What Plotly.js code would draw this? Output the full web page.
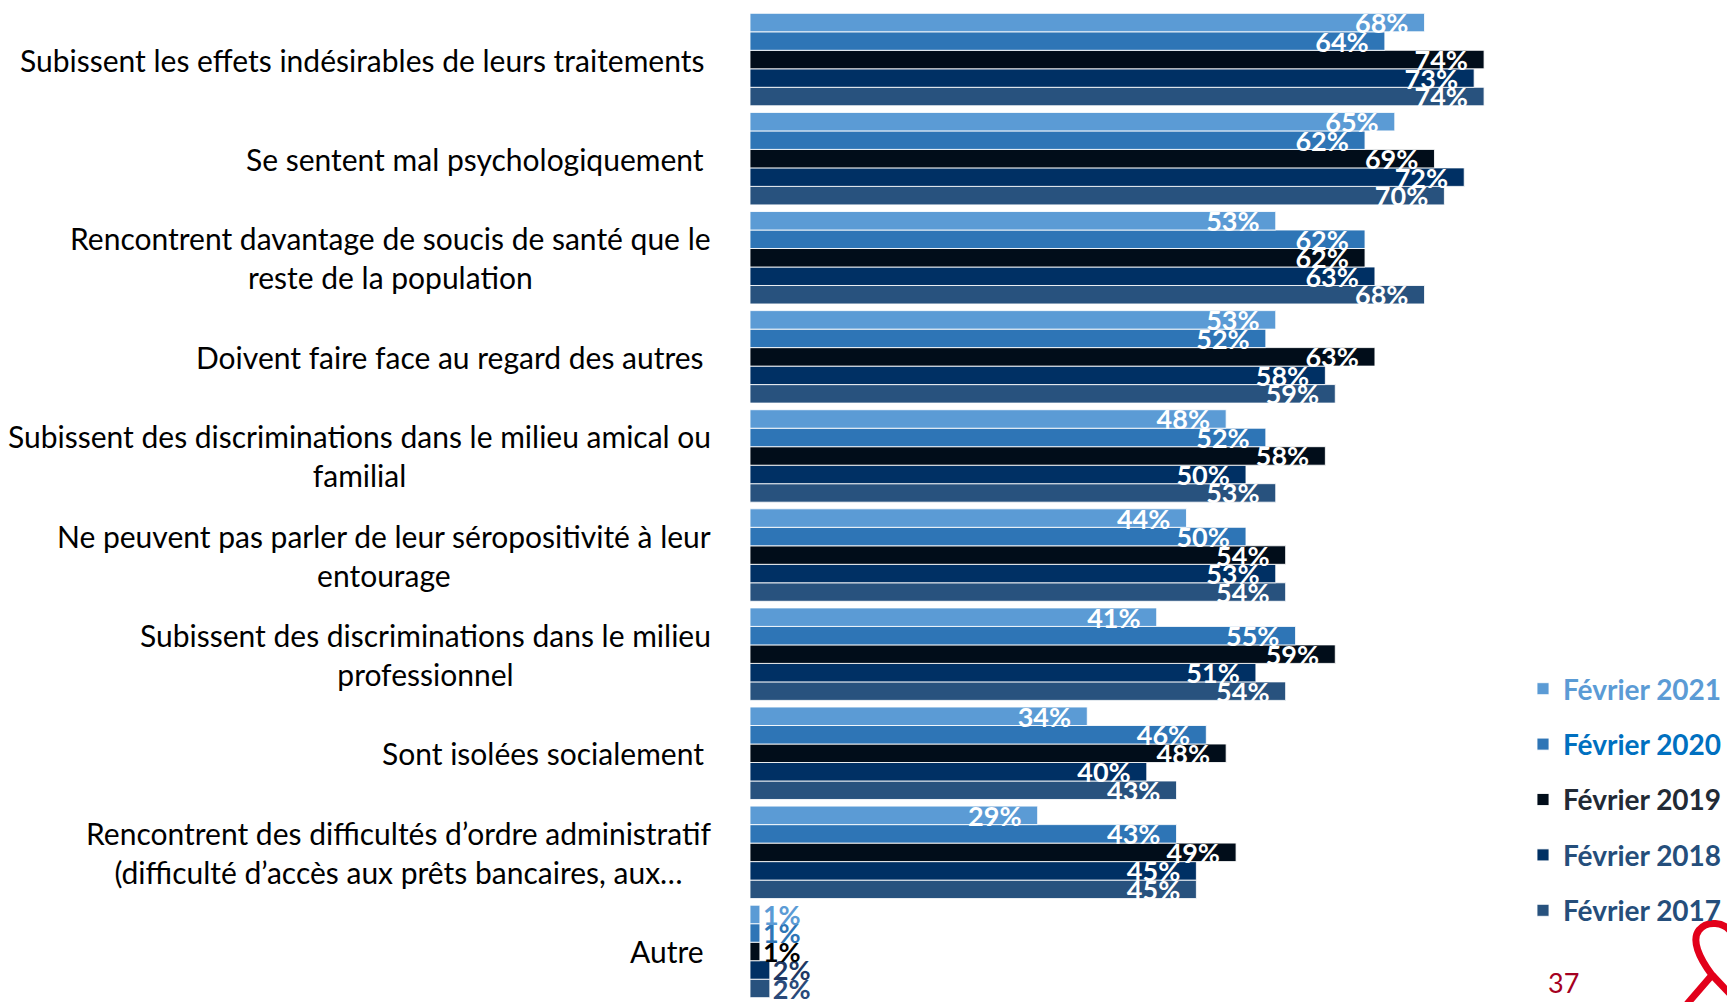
<!DOCTYPE html>
<html>
<head>
<meta charset="utf-8">
<script src="https://cdn.plot.ly/plotly-3.0.1.min.js"></script>
<style>
  html, body { margin: 0; padding: 0; background: #ffffff; }
  #chart { width: 1727px; height: 1002px; }
</style>
</head>
<body>
<div id="chart"></div>
<script>
// ---- Data ----
const categories = [
  "Subissent les effets indésirables de leurs traitements",
  "Se sentent mal psychologiquement",
  "Rencontrent davantage de soucis de santé que le<br>reste de la population",
  "Doivent faire face au regard des autres",
  "Subissent des discriminations dans le milieu amical ou<br>familial",
  "Ne peuvent pas parler de leur séropositivité à leur<br>entourage",
  "Subissent des discriminations dans le milieu<br>professionnel",
  "Sont isolées socialement",
  "Rencontrent des difficultés d’ordre administratif<br>(difficulté d’accès aux prêts bancaires, aux…",
  "Autre"
];
const seriesNames = ["Février 2021", "Février 2020", "Février 2019", "Février 2018", "Février 2017"];
const fev2021 = [68, 65, 53, 53, 48, 44, 41, 34, 29, 1];
const fev2020 = [64, 62, 62, 52, 52, 50, 55, 46, 43, 1];
const fev2019 = [74, 69, 62, 63, 58, 54, 59, 48, 49, 1];
const fev2018 = [73, 72, 63, 58, 50, 53, 51, 40, 45, 2];
const fev2017 = [74, 70, 68, 59, 53, 54, 54, 43, 45, 2];
const seriesValues = [fev2021, fev2020, fev2019, fev2018, fev2017];

// ---- Styles ----
const barColors = ["#5B9BD5", "#2E75B6", "#010D1A", "#003064", "#28527E"];
const legendTextColors = ["#5B9BD5", "#0070C0", "#222A35", "#254E7B", "#254E7B"];
const outsideColors = ["#5B9BD5", "#2E75B6", "#000000", "#203864", "#2A4A7A"];
const FONT = "Lato, 'Open Sans', sans-serif";

const W = 1727, H = 1002;
const M = { l: 750, r: 0, t: 10, b: 1 };
const plotW = W - M.l - M.r, plotH = H - M.t - M.b;
const px2x = px => (px - M.l) / plotW;
const py2y = py => (H - M.b - py) / plotH;

// Traces are added from the oldest (bottom of each group) to the newest (top),
// so that each label is painted above the bar just below it.
const traces = seriesNames.map((name, i) => ({
  type: "bar",
  orientation: "h",
  name: `<span style="color:${legendTextColors[i]}">${name}</span>`,
  legendgroup: "g" + i,
  legendrank: i + 1,
  y: categories,
  x: seriesValues[i],
  marker: { color: barColors[i], line: { color: "rgba(255,255,255,0.85)", width: 1 } },
  texttemplate: "%{x}%\u00a0\u00a0",
  textposition: seriesValues[i].map(v => v < 10 ? "outside" : "inside"),
  insidetextanchor: "end",
  textangle: 0,
  constraintext: "none",
  cliponaxis: false,
  insidetextfont: { family: FONT, size: 27, color: "#ffffff", weight: 700 },
  outsidetextfont: { family: FONT, size: 27, color: outsideColors[i], weight: 700 },
  hoverinfo: "skip"
})).reverse();

const annotations = categories.map(c => ({
  xref: "paper", yref: "y",
  x: 0, y: c,
  xanchor: "right", yanchor: "middle",
  xshift: c.includes("<br>") ? -37 : -44,
  align: "center",
  showarrow: false,
  text: c,
  font: { family: FONT, size: 30, color: "#000000" }
}));

annotations.push({
  xref: "paper", yref: "paper",
  x: px2x(1564), y: py2y(982),
  xanchor: "center", yanchor: "middle",
  showarrow: false,
  text: "37",
  font: { family: FONT, size: 27, color: "#A50021" }
});

// Ribbon logo (partial, bottom-right corner)
function pathPx(cmds) {
  return cmds.map(([c, ...pts]) => {
    const out = [];
    for (let k = 0; k < pts.length; k += 2) out.push(px2x(pts[k]).toFixed(4) + "," + py2y(pts[k + 1]).toFixed(4));
    return c + out.join(" ");
  }).join(" ");
}
const ribbon1 = pathPx([["M", 1688, 1004], ["L", 1713, 975], ["C", 1700, 958, 1692, 940, 1700, 930], ["C", 1708, 920, 1725, 922, 1732, 932]]);
const ribbon2 = pathPx([["M", 1713, 975], ["L", 1735, 998]]);

const layout = {
  width: W, height: H,
  margin: { l: M.l, r: M.r, t: M.t, b: M.b, pad: 0 },
  paper_bgcolor: "#ffffff",
  plot_bgcolor: "#ffffff",
  barmode: "group",
  bargap: 0.067,
  bargroupgap: 0,
  xaxis: { range: [0, plotW / 9.93], visible: false, fixedrange: true },
  yaxis: {
    type: "category",
    categoryorder: "array",
    categoryarray: categories.slice().reverse(),
    showticklabels: false, showgrid: false, zeroline: false, showline: false, ticks: "", fixedrange: true
  },
  showlegend: true,
  legend: {
    x: px2x(1524), y: py2y(664), xanchor: "left", yanchor: "top",
    traceorder: "grouped",
    tracegroupgap: 16,
    font: { family: FONT, size: 28, weight: 700, color: "#222A35" },
    bgcolor: "rgba(0,0,0,0)",
    borderwidth: 0
  },
  annotations: annotations,
  shapes: [
    { type: "path", xref: "paper", yref: "paper", path: ribbon1, line: { color: "#E2001A", width: 7 } },
    { type: "path", xref: "paper", yref: "paper", path: ribbon2, line: { color: "#E2001A", width: 7 } }
  ],
  hovermode: false
};

Plotly.newPlot("chart", traces, layout, { staticPlot: true, displayModeBar: false });
</script>
</body>
</html>
